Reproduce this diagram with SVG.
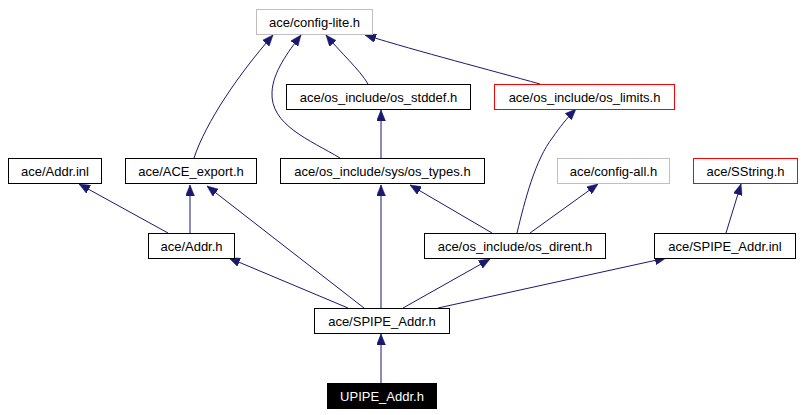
<svg xmlns="http://www.w3.org/2000/svg" width="802" height="415" viewBox="0 0 802 415">
<style>
.n rect{fill:#fff;stroke:#000;stroke-width:1}
.n.g rect{stroke:#bfbfbf}
.n.r rect{stroke:#ff0000}
.n.k rect{fill:#000;stroke:#000}
.n text{font-family:"Liberation Sans",Arial,sans-serif;font-size:13px;text-anchor:middle;fill:#000}
.n.k text{fill:#fff}
.e path{fill:none;stroke:#191970;stroke-width:1;marker-end:url(#a)}
</style>
<defs>
<marker id="a" markerUnits="userSpaceOnUse" markerWidth="11" markerHeight="9" viewBox="0 0 11 9" refX="11" refY="4.5" orient="auto">
<path d="M0,0 L11,4.5 L0,9 z" fill="#191970" stroke="#191970" stroke-width="0.5"/>
</marker>
</defs>
<rect width="802" height="415" fill="#fff"/>
<g class="e">
<path d="M381,383 L381,334"/>
<path d="M348,308 L229,258"/>
<path d="M364,308 L207,186"/>
<path d="M381,308 L381,185"/>
<path d="M403,308 L490,259"/>
<path d="M438,308 L666,258"/>
<path d="M168,233 L79,184"/>
<path d="M190,233 L190,185"/>
<path d="M194,158 C206,122 238,75 273,35"/>
<path d="M340,158 C310,140 270,125 272,92 C273,72 288,52 301,35"/>
<path d="M368,84 C360,70 340,52 326,35"/>
<path d="M540,84 C490,70 420,52 365,35"/>
<path d="M381,158 L381,110"/>
<path d="M492,233 L410,185"/>
<path d="M517,233 C525,200 535,160 553,137 C560,127 566,119 576,109"/>
<path d="M530,233 L598,184"/>
<path d="M726,233 L741,184"/>
</g>
<g id="config-lite" class="n g"><rect x="256.5" y="9.5" width="116" height="25"/><text x="314.5" y="27">ace/config-lite.h</text></g>
<g id="os_stddef" class="n"><rect x="286.5" y="84.5" width="184" height="25"/><text x="378.5" y="102">ace/os_include/os_stddef.h</text></g>
<g id="os_limits" class="n r"><rect x="494.5" y="84.5" width="180" height="25"/><text x="584.5" y="102">ace/os_include/os_limits.h</text></g>
<g id="addr_inl" class="n"><rect x="8.5" y="158.5" width="93" height="25"/><text x="55" y="176">ace/Addr.inl</text></g>
<g id="ace_export" class="n"><rect x="125.5" y="158.5" width="131" height="25"/><text x="191" y="176">ace/ACE_export.h</text></g>
<g id="os_types" class="n"><rect x="280.5" y="158.5" width="204" height="25"/><text x="382.5" y="176">ace/os_include/sys/os_types.h</text></g>
<g id="config-all" class="n g"><rect x="557.5" y="158.5" width="112" height="25"/><text x="613.5" y="176">ace/config-all.h</text></g>
<g id="sstring" class="n r"><rect x="693.5" y="158.5" width="104" height="25"/><text x="745.5" y="176">ace/SString.h</text></g>
<g id="addr_h" class="n"><rect x="148.5" y="233.5" width="86" height="25"/><text x="191.5" y="251">ace/Addr.h</text></g>
<g id="os_dirent" class="n"><rect x="424.5" y="233.5" width="181" height="25"/><text x="515" y="251">ace/os_include/os_dirent.h</text></g>
<g id="spipe_inl" class="n"><rect x="654.5" y="233.5" width="141" height="25"/><text x="725" y="251">ace/SPIPE_Addr.inl</text></g>
<g id="spipe_h" class="n"><rect x="314.5" y="308.5" width="135" height="25"/><text x="382" y="326">ace/SPIPE_Addr.h</text></g>
<g id="upipe_h" class="n k"><rect x="327.5" y="383.5" width="109" height="25"/><text x="382" y="401">UPIPE_Addr.h</text></g>
</svg>
